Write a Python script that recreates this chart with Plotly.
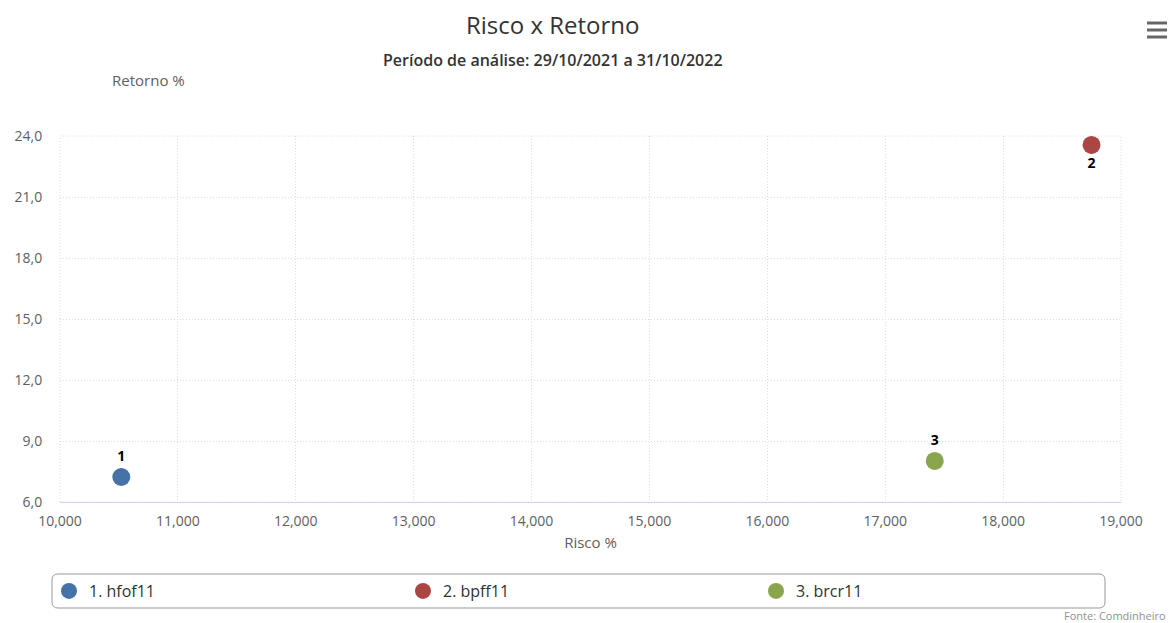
import plotly.graph_objects as go

names = ["1. hfof11", "2. bpff11", "3. brcr11"]
labels = ["1", "2", "3"]
risco = [10.52, 18.75, 17.42]
retorno = [7.23, 23.56, 8.02]
colors = ["#4572A7", "#AA4643", "#89A54E"]
label_pos = ["top center", "bottom center", "top center"]

x_ticks = [10, 11, 12, 13, 14, 15, 16, 17, 18, 19]
y_ticks = [6, 9, 12, 15, 18, 21, 24]

FONT = "Open Sans"
L, R, T, B = 60, 52, 136, 121
W, H = 1173, 623
PW, PH = W - L - R, H - T - B
GRID = "#d6deea"


def px(x):
    return (x - L) / PW


def py(y):
    return (H - B - y) / PH


legend_ids = ["legend", "legend2", "legend3"]
legend_left = [49, 403, 756]

fig = go.Figure()
for i in range(len(names)):
    fig.add_trace(go.Scatter(
        x=[risco[i]], y=[retorno[i]], name=names[i], legend=legend_ids[i],
        mode="markers+text", text=[labels[i]], textposition=label_pos[i],
        textfont=dict(family=FONT, size=14, color="#000000", weight="bold"),
        marker=dict(size=18, color=colors[i]),
        cliponaxis=False,
    ))

legend_common = dict(
    orientation="h", xref="container", xanchor="left",
    yref="container", y=(H - 591) / H, yanchor="middle",
    borderwidth=0, bgcolor="rgba(0,0,0,0)",
    font=dict(family=FONT, size=16, color="#333333"),
    itemsizing="trace",
)
fig.update_layout(
    width=W, height=H,
    margin=dict(l=L, r=R, t=T, b=B, autoexpand=False),
    paper_bgcolor="white", plot_bgcolor="white",
    separators=",.",
    font=dict(family=FONT, color="#555555"),
    showlegend=True,
    legend=dict(x=legend_left[0] / W, **legend_common),
    legend2=dict(x=legend_left[1] / W, **legend_common),
    legend3=dict(x=legend_left[2] / W, **legend_common),
)
fig.update_xaxes(
    range=[10, 19], tickvals=x_ticks, tickformat=".3f",
    showgrid=True, gridcolor=GRID, griddash="1px,2px", gridwidth=1,
    showline=True, linecolor="#ccd6eb", linewidth=1,
    ticks="outside", ticklen=6, tickcolor="rgba(0,0,0,0)", zeroline=False,
    tickfont=dict(family=FONT, size=14, color="#606060"),
    title=dict(text="Risco %", font=dict(family=FONT, size=15, color="#606060"), standoff=8),
)
fig.update_yaxes(
    range=[6, 24], tickvals=y_ticks, tickformat=".1f",
    showgrid=True, gridcolor=GRID, griddash="1px,2px", gridwidth=1,
    showline=False, ticks="outside", ticklen=14, tickcolor="rgba(0,0,0,0)", zeroline=False,
    tickfont=dict(family=FONT, size=14, color="#606060"),
)

# plot frame dotted (top / right)
fig.add_shape(type="rect", xref="paper", yref="paper", x0=0, x1=1, y0=0, y1=1,
              line=dict(color=GRID, width=1, dash="1px,2px"), layer="below")

# rounded legend box
x0, x1, y0, y1 = px(52), px(1105), py(608), py(574)
rx, ry = 6 / PW, 6 / PH
path = (f"M {x0+rx},{y1} L {x1-rx},{y1} Q {x1},{y1} {x1},{y1-ry} "
        f"L {x1},{y0+ry} Q {x1},{y0} {x1-rx},{y0} L {x0+rx},{y0} "
        f"Q {x0},{y0} {x0},{y0+ry} L {x0},{y1-ry} Q {x0},{y1} {x0+rx},{y1} Z")
fig.add_shape(type="path", path=path, xref="paper", yref="paper",
              line=dict(color="#999999", width=1))

# hamburger icon
for yy in (23, 30, 37):
    fig.add_shape(type="line", xref="paper", yref="paper",
                  x0=px(1147), x1=px(1167), y0=py(yy), y1=py(yy),
                  line=dict(color="#666666", width=3))

fig.add_annotation(text="Risco x Retorno", xref="paper", yref="paper",
                   x=px(553), y=py(24), xanchor="center", yanchor="middle",
                   showarrow=False, font=dict(family=FONT, size=24, color="#333333"))
fig.add_annotation(text="Período de análise: 29/10/2021 a 31/10/2022", xref="paper", yref="paper",
                   x=px(553), y=py(60), xanchor="center", yanchor="middle",
                   showarrow=False, font=dict(family=FONT, size=16, color="#333333", weight=600))
fig.add_annotation(text="Retorno %", xref="paper", yref="paper",
                   x=px(148), y=py(80), xanchor="center", yanchor="middle",
                   showarrow=False, font=dict(family=FONT, size=15, color="#606060"))
fig.add_annotation(text="Fonte: Comdinheiro", xref="paper", yref="paper",
                   x=px(1168), y=py(615), xanchor="right", yanchor="middle",
                   showarrow=False, font=dict(family=FONT, size=11, color="#909090"))

fig.write_html("out.html", config={"displayModeBar": False},
               post_script="document.body.style.margin='0';document.body.style.overflow='hidden';")
